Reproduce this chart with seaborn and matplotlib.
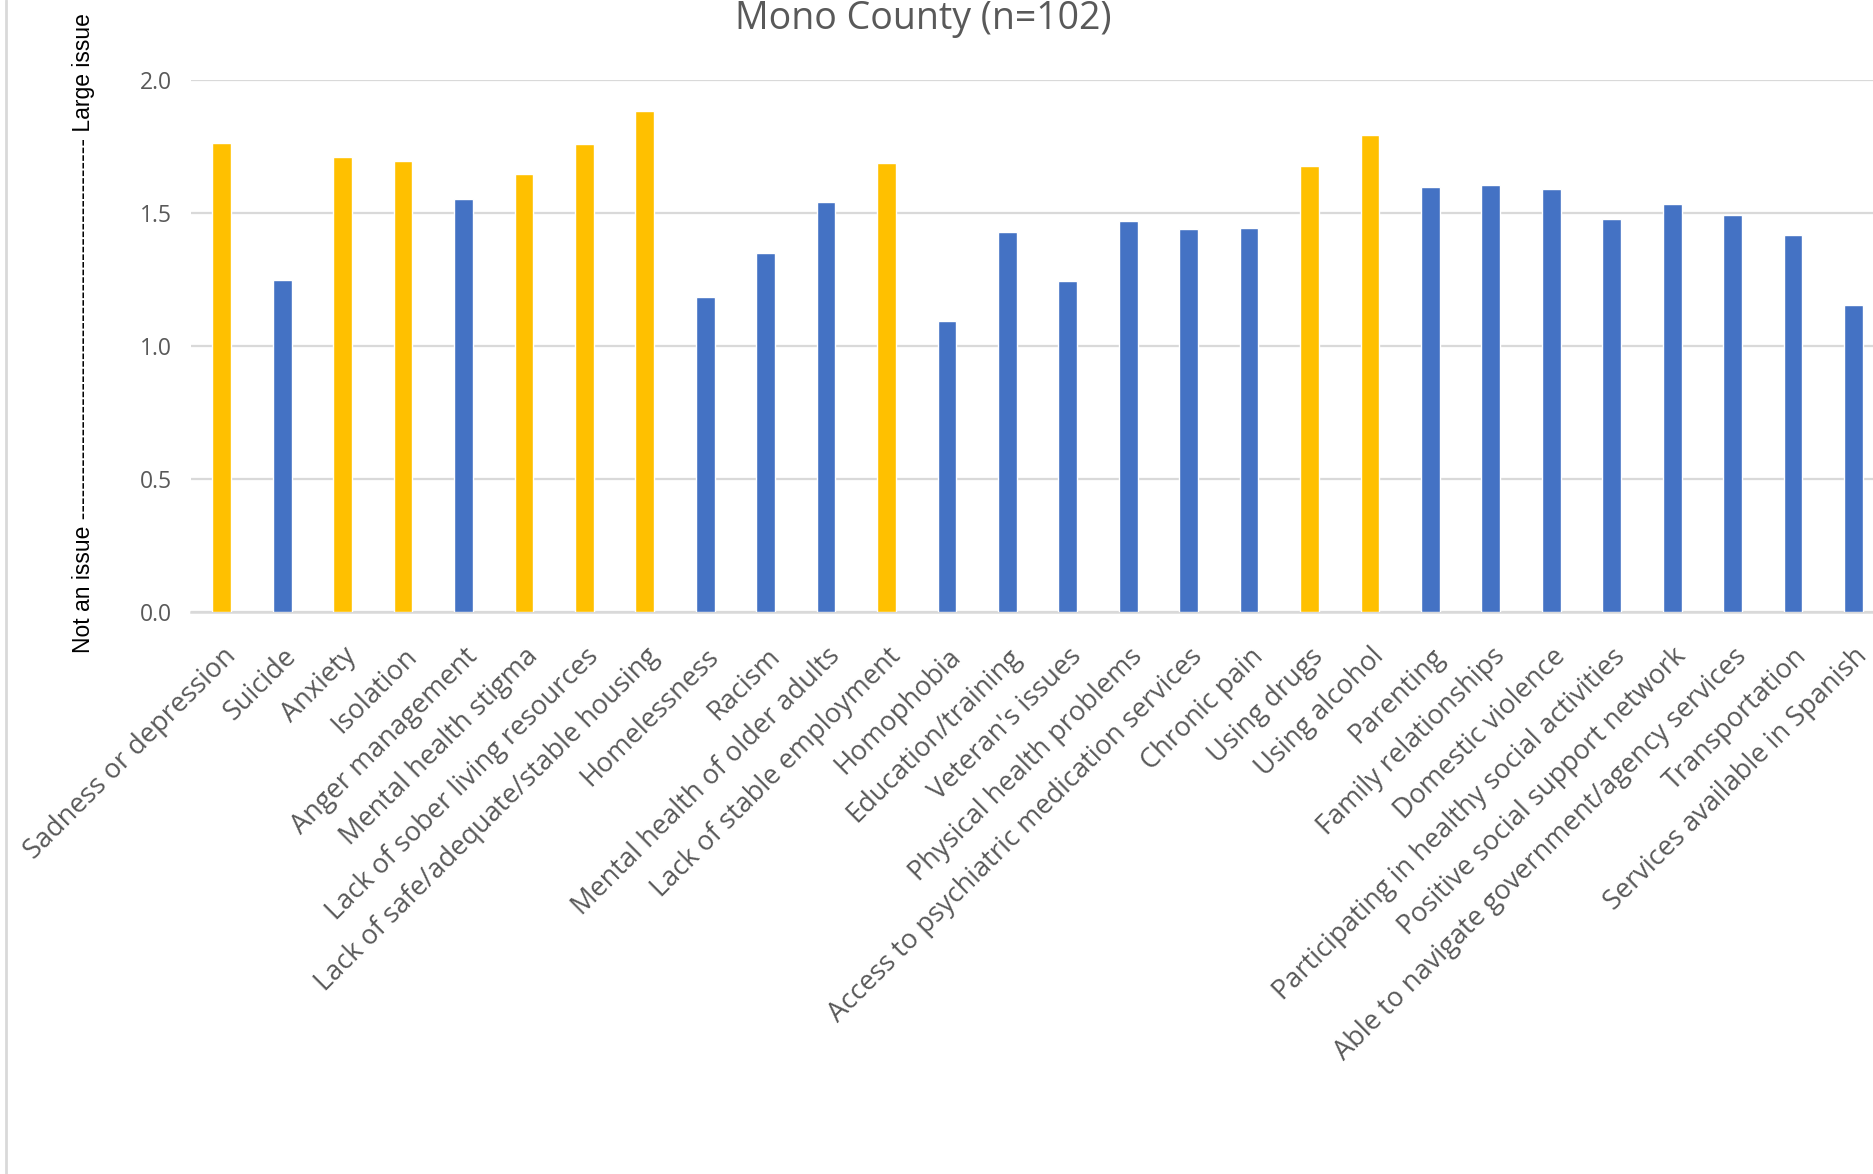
import matplotlib
matplotlib.use("Agg")
import matplotlib.pyplot as plt
from matplotlib.lines import Line2D
import seaborn as sns
import pandas as pd

categories = [
    "Sadness or depression", "Suicide", "Anxiety", "Isolation",
    "Anger management", "Mental health stigma", "Lack of sober living resources",
    "Lack of safe/adequate/stable housing", "Homelessness", "Racism",
    "Mental health of older adults", "Lack of stable employment", "Homophobia",
    "Education/training", "Veteran's issues", "Physical health problems",
    "Access to psychiatric medication services", "Chronic pain", "Using drugs",
    "Using alcohol", "Parenting", "Family relationships", "Domestic violence",
    "Participating in healthy social activities", "Positive social support network",
    "Able to navigate government/agency services", "Transportation",
    "Services available in Spanish",
]
scores = [
    1.762, 1.249, 1.710, 1.695, 1.553, 1.645, 1.758, 1.883, 1.183, 1.351,
    1.543, 1.687, 1.094, 1.427, 1.245, 1.471, 1.440, 1.442, 1.675, 1.792,
    1.599, 1.604, 1.591, 1.477, 1.535, 1.494, 1.416, 1.153,
]
highlighted = [
    "Sadness or depression", "Anxiety", "Isolation", "Mental health stigma",
    "Lack of sober living resources", "Lack of safe/adequate/stable housing",
    "Lack of stable employment", "Using drugs", "Using alcohol",
]
y_ticks = [0.0, 0.5, 1.0, 1.5, 2.0]
title = "Mono County (n=102)"

YELLOW = "#FFC000"
BLUE = "#4472C4"
GRID = "#D9D9D9"
TEXT = "#595959"

sns.set_theme(style="white")
plt.rcParams["font.family"] = ["Open Sans", "DejaVu Sans"]

df = pd.DataFrame({"category": categories, "score": scores})
palette = {c: (YELLOW if c in highlighted else BLUE) for c in categories}

fig = plt.figure(figsize=(18.74, 11.74), dpi=100)
ax = fig.add_axes([0.1019, 0.4787, 1.0 - 0.1019, 0.9319 - 0.4787])

sns.barplot(data=df, x="category", y="score", hue="category", palette=palette,
            legend=False, width=0.31, saturation=1, ax=ax, zorder=3)

ax.set_xlim(-0.51, len(categories) - 1 + 0.34)
ax.set_ylim(0, 2.0)
ax.set_yticks(y_ticks)
ax.set_yticklabels([f"{v:.1f}" for v in y_ticks], fontsize=16.5, color=TEXT)
ax.yaxis.grid(True, color=GRID, linewidth=1.6, zorder=0)
ax.set_axisbelow(True)
for side in ["top", "right", "left"]:
    ax.spines[side].set_visible(False)
ax.spines["bottom"].set_color(GRID)
ax.spines["bottom"].set_linewidth(1.8)
ax.tick_params(axis="y", length=0, pad=14)
ax.tick_params(axis="x", length=0, pad=22)

ax.set_xticks(range(len(categories)))
ax.set_xticklabels(categories, rotation=45, ha="right", rotation_mode="anchor",
                   fontsize=19.5, color=TEXT)
ax.set_xlabel("")
ax.set_ylabel("")

fig.text(0.4925, 0.984, title, ha="center", va="center", fontsize=27, color=TEXT)

fig.text(0.0445, 0.7165, "Not an issue " + "-" * 50 + " Large issue",
         rotation=90, ha="center", va="center", fontsize=16.5, color="black",
         family=["Liberation Sans", "DejaVu Sans"])

fig.add_artist(Line2D([0.003, 0.003], [0.0, 1.0], color=GRID, linewidth=2,
                      transform=fig.transFigure))

fig.savefig("out.png", dpi=100)
